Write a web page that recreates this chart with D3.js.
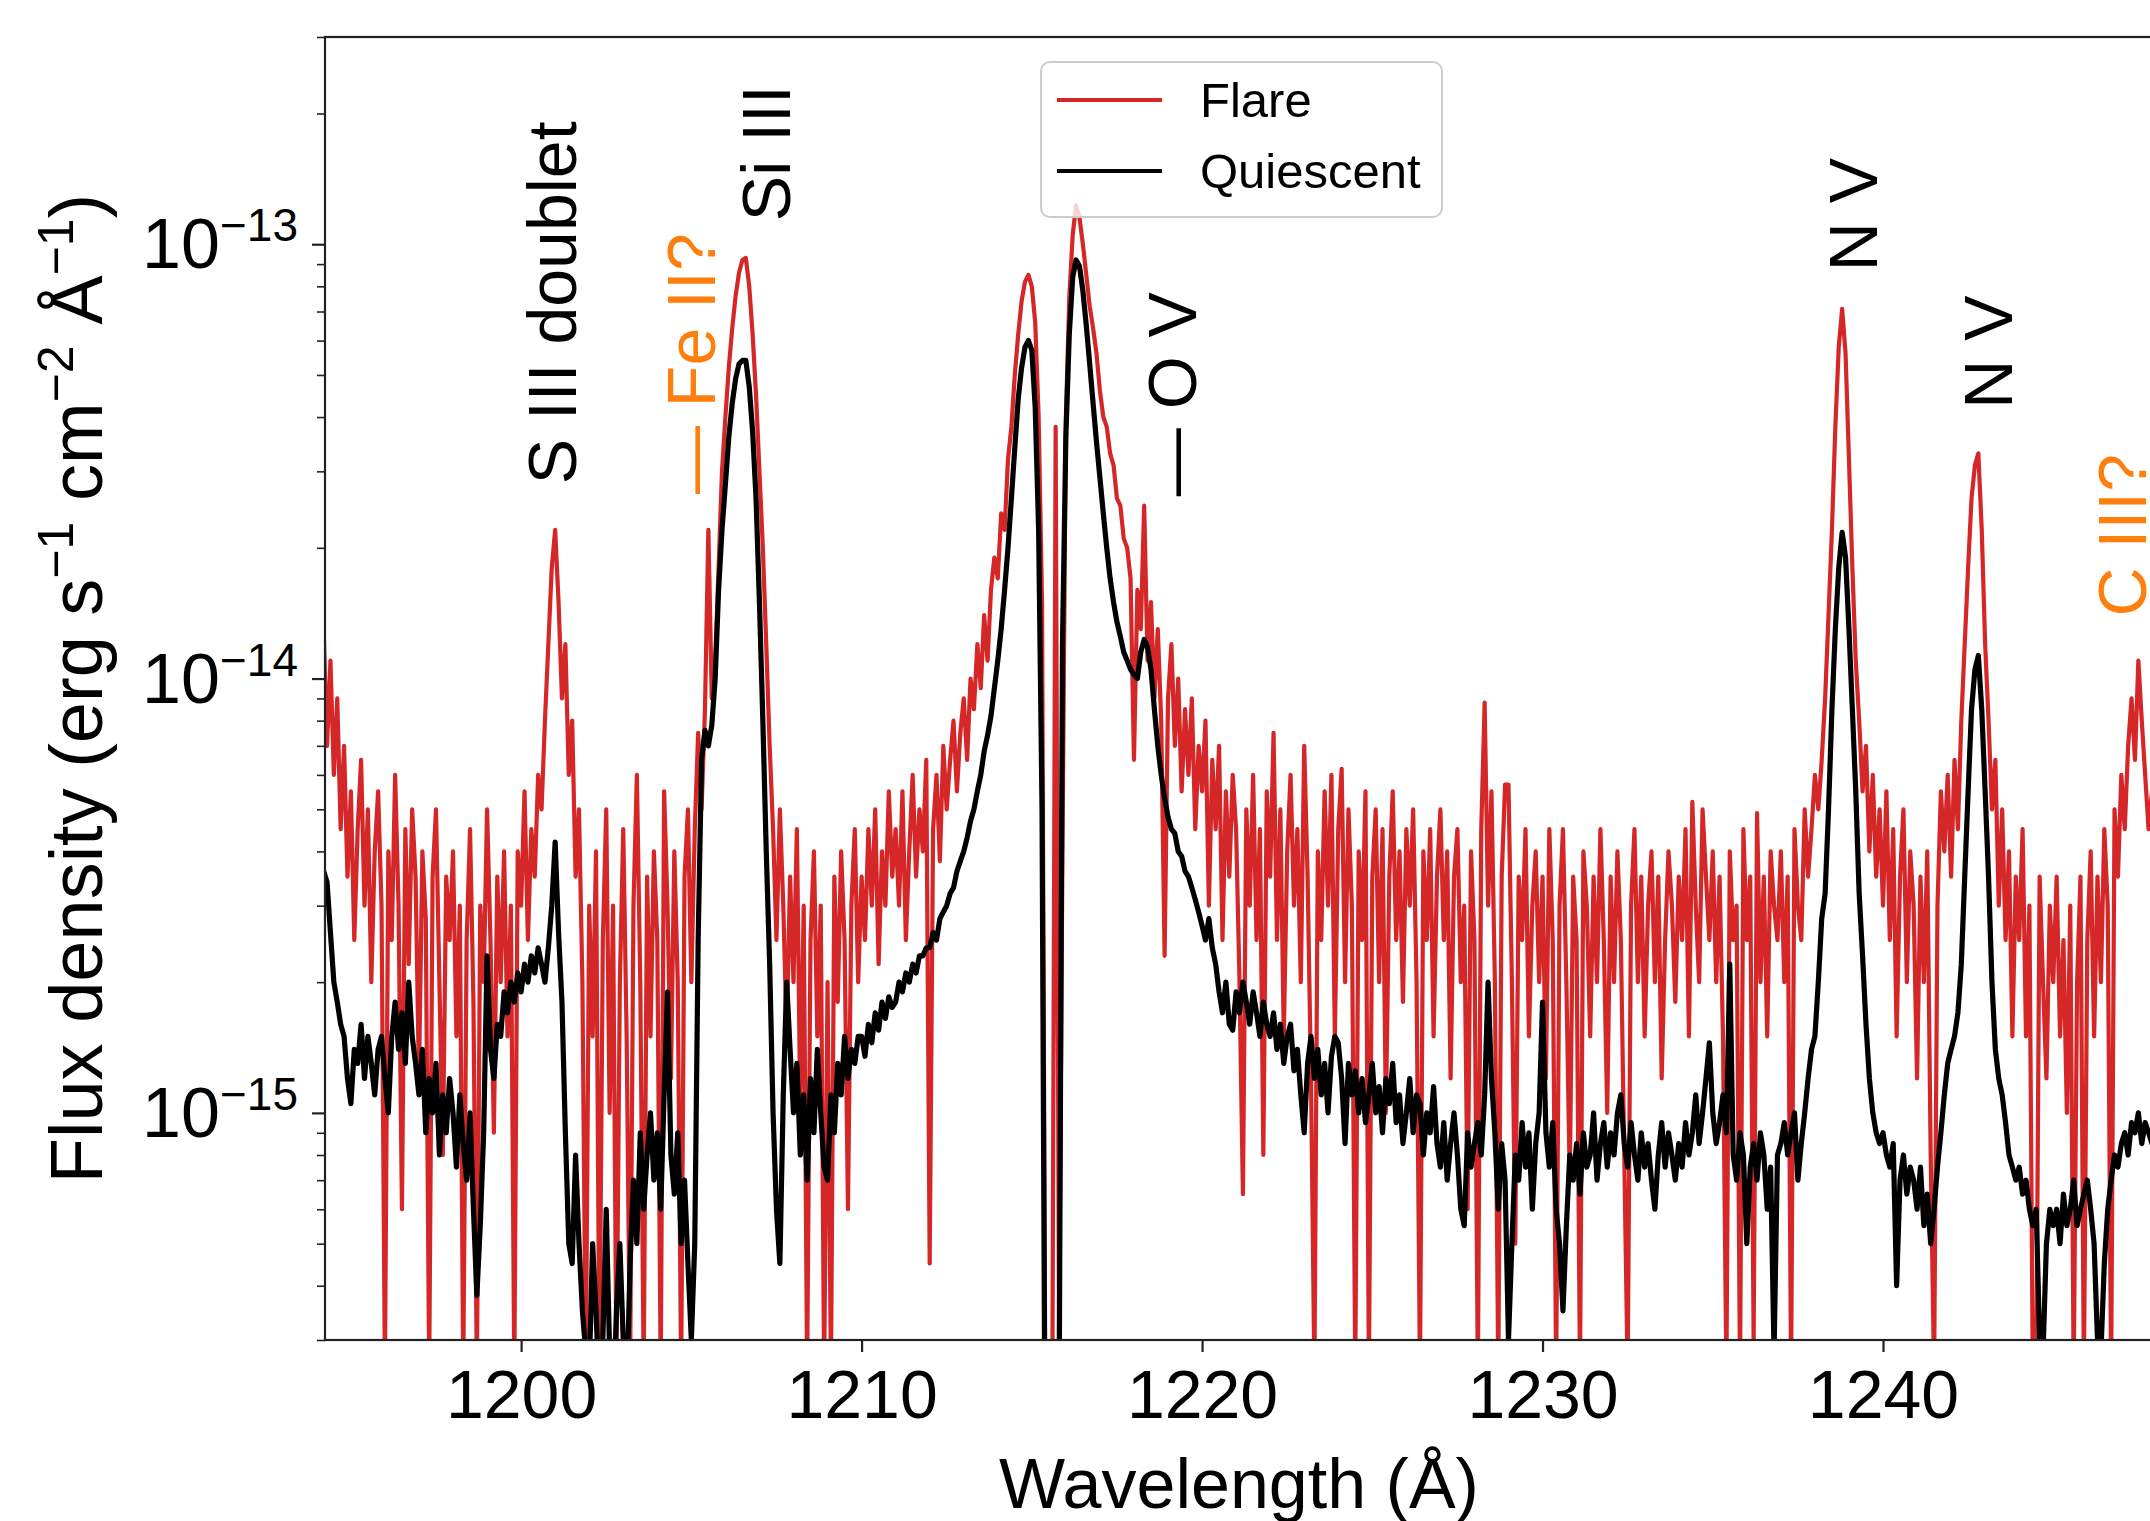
<!DOCTYPE html>
<html>
<head>
<meta charset="utf-8">
<script src="https://cdn.jsdelivr.net/npm/d3@7"></script>
<style>
  body { margin: 0; background: #fff; }
  svg { display: block; font-family: "Liberation Sans", Arial, Helvetica, sans-serif; }
</style>
</head>
<body>
<div id="chart"></div>
<script>
// ──────────────────────────────────────────────
// 1) Data (flux in units of 1e-15 erg/s/cm2/Å)
// ──────────────────────────────────────────────
var waveStart = 1194.2;   // Å, first sample
var waveStep  = 0.1;      // Å between samples
var fluxUnit  = 1e-15;

var quiescent = [
  3.6, 3.4, 2.6, 2.0, 1.8, 1.6, 1.5, 1.2,                   // 1194.2
  1.05, 1.4, 1.3, 1.6, 1.2, 1.5, 1.3, 1.1, 1.4, 1.5,        // 1195
  1.2, 1.0, 1.5, 1.8, 1.4, 1.7, 1.3, 2.0, 1.5, 1.3,         // 1196
  1.1, 1.4, 0.9, 1.2, 1.0, 1.3, 0.8, 1.1, 0.9, 1.2,         // 1197
  1.0, 0.75, 1.1, 0.85, 0.7, 1.0, 0.6, 0.38, 0.55, 0.9,     // 1198
  2.3, 1.4, 1.2, 1.6, 1.5, 1.9, 1.7, 2.0, 1.8, 2.1,         // 1199
  1.9, 2.2, 2.0, 2.3, 2.1, 2.4, 2.2, 2.0, 2.4, 3.0,         // 1200
  4.2, 2.6, 1.8, 0.9, 0.5, 0.45, 0.8, 0.5, 0.35, 0.28,      // 1201
  0.25, 0.5, 0.35, 0.22, 0.3, 0.6, 0.28, 0.2, 0.35, 0.5,    // 1202
  0.3, 0.22, 0.45, 0.7, 0.5, 0.9, 0.6, 0.8, 1.0, 0.7,       // 1203
  0.9, 0.6, 1.1, 1.9, 0.8, 0.65, 0.9, 0.5, 0.7, 0.45,       // 1204
  0.3, 0.5, 2.5, 6.5, 7.6, 7.0, 7.8, 10, 16, 22,            // 1205
  28, 36, 43, 49, 53, 54, 54, 47, 37, 26,                   // 1206
  15, 8.0, 4.0, 2.2, 1.0, 0.6, 0.45, 1.1, 2.0, 1.4,         // 1207
  1.0, 1.3, 0.8, 1.1, 0.7, 1.2, 0.9, 1.4, 1.0, 0.75,        // 1208
  0.7, 1.1, 0.9, 1.3, 1.1, 1.5, 1.2, 1.4, 1.3, 1.5,         // 1209
  1.5, 1.35, 1.6, 1.45, 1.7, 1.55, 1.8, 1.65, 1.85, 1.75,   // 1210
  1.8, 2.0, 1.9, 2.1, 2.0, 2.2, 2.1, 2.3, 2.3, 2.4,         // 1211
  2.4, 2.6, 2.5, 2.8, 2.9, 3.0, 3.2, 3.3, 3.6, 3.8,         // 1212
  4.0, 4.3, 4.7, 5.0, 5.5, 6.0, 6.8, 7.4, 8.2, 9.5,         // 1213
  11, 13, 16, 20, 26, 34, 44, 52, 58, 60,                   // 1214
  57, 42, 22, 5.0, 0.1, 0.1, 0.1, 0.1, 0.2, 12,             // 1215
  36, 62, 84, 92, 89, 78, 65, 53, 43, 35,                   // 1216
  29, 24, 20, 17, 15, 13.5, 12.5, 11.5, 11, 10.5,           // 1217
  10.2, 10.0, 11.5, 12.3, 11.8, 10.5, 8.5, 7.0, 6.0, 5.3,   // 1218
  4.8, 4.5, 4.4, 4.0, 3.9, 3.6, 3.5, 3.3, 3.1, 2.9,         // 1219
  2.7, 2.5, 2.8, 2.4, 2.2, 1.9, 1.7, 2.0, 1.6, 1.55,        // 1220
  1.9, 1.7, 2.0, 1.8, 1.6, 1.9, 1.7, 1.5, 1.8, 1.6,         // 1221
  1.5, 1.7, 1.4, 1.6, 1.3, 1.5, 1.6, 1.25, 1.4, 1.1,        // 1222
  0.9, 1.3, 1.5, 1.2, 1.4, 1.1, 1.3, 1.0, 1.35, 1.5,        // 1223
  1.45, 1.2, 0.85, 1.3, 1.1, 1.25, 1.0, 1.2, 0.95, 1.1,     // 1224
  1.3, 1.0, 1.15, 0.9, 1.2, 1.05, 1.3, 0.95, 1.1, 0.85,     // 1225
  1.0, 1.2, 0.9, 1.1, 1.05, 0.8, 1.0, 0.9, 1.15, 0.85,      // 1226
  0.75, 0.95, 0.7, 0.85, 1.0, 0.8, 0.6, 0.55, 0.9, 0.75,    // 1227
  0.85, 0.95, 0.8, 1.1, 2.0, 1.2, 0.9, 0.6, 0.85, 0.7,      // 1228
  0.3, 0.5, 0.8, 0.7, 0.95, 0.75, 0.9, 0.6, 0.85, 1.0,      // 1229
  1.8, 0.9, 0.75, 0.95, 0.6, 0.5, 0.35, 0.55, 0.8, 0.7,     // 1230
  0.85, 0.65, 0.9, 0.75, 0.8, 1.0, 0.7, 0.85, 0.95, 0.75,   // 1231
  0.9, 0.8, 1.0, 1.1, 0.85, 0.75, 0.95, 0.8, 0.7, 0.9,      // 1232
  0.75, 0.85, 0.7, 0.6, 0.8, 0.95, 0.75, 0.9, 0.8, 0.7,     // 1233
  0.85, 0.75, 0.95, 0.8, 0.9, 1.1, 0.85, 1.0, 1.2, 1.45,    // 1234
  1.0, 0.85, 0.95, 1.1, 0.9, 2.2, 0.8, 0.7, 0.9, 0.8,       // 1235
  0.5, 0.75, 0.85, 0.7, 0.9, 0.8, 0.6, 0.75, 0.28, 0.8,     // 1236
  0.85, 0.95, 0.8, 0.9, 1.0, 0.7, 0.85, 1.0, 1.2, 1.4,      // 1237
  1.5, 2.0, 2.8, 3.2, 5.0, 8.5, 13, 18, 21.7, 19,           // 1238
  13, 8.5, 5.5, 3.2, 2.3, 1.6, 1.2, 1.0, 0.9, 0.85,         // 1239
  0.9, 0.8, 0.75, 0.85, 0.4, 0.7, 0.8, 0.65, 0.75, 0.7,     // 1240
  0.6, 0.75, 0.55, 0.65, 0.5, 0.6, 0.75, 0.9, 1.1, 1.3,     // 1241
  1.4, 1.5, 1.7, 2.2, 3.5, 5.5, 8.5, 10.5, 11.3, 8.5,       // 1242
  5.5, 3.5, 2.0, 1.4, 1.2, 1.1, 0.95, 0.8, 0.75, 0.7,       // 1243
  0.75, 0.65, 0.7, 0.6, 0.55, 0.6, 0.3, 0.28, 0.5, 0.6,     // 1244
  0.55, 0.6, 0.5, 0.65, 0.55, 0.6, 0.7, 0.55, 0.6, 0.65,    // 1245
  0.7, 0.6, 0.5, 0.3, 0.28, 0.45, 0.6, 0.7, 0.8, 0.75,      // 1246
  0.85, 0.9, 0.8, 0.95, 0.9, 1.0, 0.85, 0.95, 0.9, 0.85,    // 1247
  0.9, 0.85, 0.95                                           // 1248
];

var flare = [
  13, 7.0, 11, 6.0, 9.0, 4.5, 7.0, 3.5,                     // 1194.2
  5.5, 2.5, 4.5, 6.5, 3.0, 5.0, 2.0, 4.0, 5.5, 3.0,         // 1195
  0.25, 4.0, 2.5, 6.0, 3.0, 0.6, 4.5, 2.2, 5.0, 3.5,        // 1196
  1.2, 4.0, 2.8, 0.25, 3.5, 5.0, 2.0, 0.8, 3.5, 2.5,        // 1197
  4.0, 1.5, 3.0, 0.25, 2.5, 4.5, 1.8, 0.25, 3.0, 2.0,       // 1198
  5.0, 2.5, 0.9, 3.5, 2.0, 4.0, 1.5, 3.0, 0.25, 4.0,        // 1199
  3.0, 5.5, 2.5, 4.5, 3.5, 6.0, 5.0, 8.0, 12, 18,           // 1200
  22, 15, 9.0, 12, 6.0, 8.0, 3.5, 5.0, 2.0, 0.25,           // 1201
  3.0, 1.5, 4.0, 0.25, 2.5, 5.0, 1.0, 3.0, 0.25, 2.0,       // 1202
  4.5, 1.5, 0.25, 3.0, 6.0, 2.0, 0.25, 3.5, 1.5, 4.0,       // 1203
  2.5, 0.25, 5.5, 3.0, 1.2, 4.0, 2.0, 0.25, 3.5, 5.0,       // 1204
  2.0, 4.5, 7.5, 5.0, 8.5, 22, 9.0, 11, 18, 30,             // 1205
  40, 52, 64, 76, 86, 92, 93, 80, 62, 45,                   // 1206
  30, 20, 12, 7.0, 4.5, 2.5, 5.0, 3.0, 1.5, 3.5,            // 1207
  2.0, 4.5, 1.0, 3.0, 0.25, 2.5, 4.0, 1.5, 3.0, 0.25,       // 1208
  2.0, 0.25, 3.5, 1.8, 4.0, 2.5, 0.6, 3.0, 4.5, 2.0,        // 1209
  3.5, 2.5, 4.5, 3.0, 5.0, 2.2, 4.0, 3.0, 5.5, 3.5,         // 1210
  4.5, 3.0, 5.5, 2.5, 4.0, 6.0, 3.5, 5.0, 4.0, 6.5,         // 1211
  0.45, 4.5, 6.0, 3.8, 7.0, 5.0, 6.5, 8.0, 5.5, 7.5,        // 1212
  9.0, 6.5, 10, 8.5, 12, 9.5, 14, 11, 16, 19,               // 1213
  17, 24, 22, 32, 38, 50, 62, 74, 82, 85,                   // 1214
  80, 66, 40, 15, 0.2, 0.2, 0.2, 38, 0.3, 4.0,              // 1215
  40, 75, 105, 123, 115, 100, 85, 72, 64, 56,               // 1216
  46, 40, 38, 33, 31, 26, 25, 21, 20, 17,                   // 1217
  6.5, 16, 13, 25, 11, 15, 9.0, 13, 8.0, 2.3,               // 1218
  9.0, 12, 7.0, 10, 5.5, 8.5, 6.0, 9.0, 4.5, 7.0,           // 1219
  5.5, 8.0, 3.0, 6.5, 4.5, 7.0, 2.5, 5.5, 3.5, 6.0,         // 1220
  4.5, 2.0, 0.65, 5.0, 3.0, 6.0, 2.5, 4.5, 0.8, 5.5,        // 1221
  3.5, 7.5, 2.5, 5.0, 1.5, 4.0, 6.0, 3.0, 4.5, 2.0,         // 1222
  7.0, 3.5, 1.2, 0.25, 4.0, 2.5, 5.5, 3.0, 6.0, 1.5,        // 1223
  4.5, 6.2, 2.0, 5.0, 3.0, 0.25, 4.0, 2.5, 5.5, 0.25,       // 1224
  3.5, 5.0, 2.0, 4.5, 1.0, 3.5, 5.5, 2.5, 4.0, 1.8,         // 1225
  4.5, 3.0, 5.0, 2.0, 0.25, 4.0, 2.5, 4.5, 1.5, 3.5,        // 1226
  5.0, 2.5, 4.0, 1.2, 3.5, 4.5, 2.0, 3.0, 0.6, 4.0,         // 1227
  2.5, 0.25, 4.5, 8.8, 3.0, 5.5, 2.0, 0.25, 3.5, 5.7,       // 1228
  5.7, 2.0, 0.5, 3.5, 2.5, 4.5, 1.5, 3.0, 4.0, 2.0,         // 1229
  3.5, 1.2, 4.5, 2.5, 0.25, 3.0, 4.5, 2.0, 0.7, 3.5,        // 1230
  2.5, 0.25, 4.0, 3.0, 1.5, 3.5, 2.0, 4.5, 2.5, 1.0,        // 1231
  3.5, 2.0, 4.0, 2.5, 0.8, 0.25, 3.0, 4.5, 2.0, 3.5,        // 1232
  1.5, 3.0, 4.0, 2.0, 3.5, 1.2, 2.5, 4.0, 3.0, 1.8,         // 1233
  3.5, 2.5, 4.5, 1.5, 5.2, 3.0, 2.0, 5.0, 3.5, 2.5,         // 1234
  4.0, 2.0, 3.5, 1.5, 0.25, 4.0, 2.5, 3.0, 0.25, 4.5,       // 1235
  2.5, 3.5, 0.3, 4.9, 2.0, 3.5, 1.5, 4.0, 3.0, 2.5,         // 1236
  4.0, 2.0, 3.5, 0.25, 4.5, 3.0, 2.5, 5.0, 3.5, 4.5,        // 1237
  6.0, 5.0, 6.5, 9.0, 14, 22, 38, 58, 71, 56,               // 1238
  32, 18, 11, 8.0, 5.5, 7.0, 4.0, 6.0, 3.5, 5.0,            // 1239
  3.0, 5.5, 2.5, 4.5, 1.5, 3.5, 5.0, 2.0, 4.0, 3.0,         // 1240
  1.2, 3.5, 2.0, 4.0, 0.8, 0.25, 3.0, 5.5, 4.0, 6.0,        // 1241
  3.5, 6.5, 4.5, 8.0, 12, 18, 26, 31, 33, 22,               // 1242
  12, 8.0, 5.0, 6.5, 3.0, 5.0, 2.5, 4.0, 1.5, 3.5,          // 1243
  2.5, 4.5, 1.5, 3.0, 0.25, 0.25, 3.5, 2.0, 1.2, 3.0,       // 1244
  2.0, 3.5, 1.5, 2.5, 1.0, 3.0, 0.25, 2.0, 3.5, 0.25,       // 1245
  2.5, 4.0, 1.5, 3.5, 2.0, 4.5, 3.0, 0.25, 5.0, 3.5,        // 1246
  6.0, 4.5, 7.0, 9.0, 6.5, 11, 8.0, 6.0, 4.5, 5.5,          // 1247
  3.5, 4.5, 3.0                                             // 1248
];

// line identifications: wavelength of label centre, flux at label foot
var lineLabels = [
  { text: "S III doublet", wave: 1200.91, flux: 2.8e-14,  color: "#000000" },
  { text: "— Fe II?",      wave: 1204.99, flux: 2.66e-14, color: "#ff7f0e" },
  { text: "Si III",        wave: 1207.17, flux: 1.13e-13, color: "#000000" },
  { text: "— O V",         wave: 1219.10, flux: 2.63e-14, color: "#000000" },
  { text: "N V",           wave: 1239.10, flux: 8.67e-14, color: "#000000" },
  { text: "N V",           wave: 1243.07, flux: 4.18e-14, color: "#000000" },
  { text: "C III?",        wave: 1247.00, flux: 1.39e-14, color: "#ff7f0e" }
];

var seriesNames  = ["Flare", "Quiescent"];
var seriesColors = ["#d62728", "#000000"];
var xTicks = [1200, 1210, 1220, 1230, 1240];
var yTicks = [1e-15, 1e-14, 1e-13];
var yTickExp = ["−15", "−14", "−13"];

// ──────────────────────────────────────────────
// 2) Frame and scales
// ──────────────────────────────────────────────
var W = 2150, H = 1521;
var box = { left: 325, right: 2153, top: 37, bottom: 1340 };

var x = d3.scaleLinear().domain([1194.24, 1247.93]).range([box.left, box.right]);
var y = d3.scaleLog().domain([3e-16, 3e-13]).range([box.bottom, box.top]);

var svg = d3.select("#chart").append("svg")
  .attr("width", W).attr("height", H);

svg.append("defs").append("clipPath").attr("id", "plotclip")
  .append("rect")
  .attr("x", box.left).attr("y", box.top)
  .attr("width", box.right - box.left).attr("height", box.bottom - box.top);

// ──────────────────────────────────────────────
// 3) Spectra (flare first, quiescent drawn on top)
// ──────────────────────────────────────────────
var line = d3.line()
  .x(function(d, i) { return x(waveStart + i * waveStep); })
  .y(function(d) { return y(d * fluxUnit); });

var plot = svg.append("g").attr("clip-path", "url(#plotclip)");
[flare, quiescent].forEach(function(s, k) {
  plot.append("path")
    .attr("d", line(s))
    .attr("fill", "none")
    .attr("stroke", seriesColors[k])
    .attr("stroke-width", k === 0 ? 4.2 : 5.2)
    .attr("stroke-linejoin", "round");
});

// ──────────────────────────────────────────────
// 4) Axes
// ──────────────────────────────────────────────
var xAxis = svg.append("g")
  .attr("transform", "translate(0," + box.bottom + ")")
  .call(d3.axisBottom(x).tickValues(xTicks).tickSize(12).tickSizeOuter(0).tickPadding(18)
        .tickFormat(d3.format("d")));
xAxis.select(".domain").remove();
xAxis.selectAll(".tick line").attr("stroke-width", 2.2).attr("stroke", "#222");
xAxis.selectAll(".tick text").attr("font-size", 68).attr("fill", "#000")
  .attr("font-family", "Liberation Sans, Arial, sans-serif");

var minorTicks = y.ticks().filter(function(v) {
  return yTicks.indexOf(v) < 0;
});
var yMinor = svg.append("g")
  .attr("transform", "translate(" + box.left + ",0)")
  .call(d3.axisLeft(y).tickValues(minorTicks).tickSize(8).tickSizeOuter(0).tickFormat(""));
yMinor.select(".domain").remove();
yMinor.selectAll(".tick line").attr("stroke-width", 1.6).attr("stroke", "#222");

var yMajor = svg.append("g")
  .attr("transform", "translate(" + box.left + ",0)")
  .call(d3.axisLeft(y).tickValues(yTicks).tickSize(13).tickSizeOuter(0).tickFormat(""));
yMajor.select(".domain").remove();
yMajor.selectAll(".tick line").attr("stroke-width", 2.2).attr("stroke", "#222");

yTicks.forEach(function(v, i) {
  var t = svg.append("text")
    .attr("x", box.left - 27)
    .attr("y", y(v) + 24)
    .attr("text-anchor", "end")
    .attr("font-size", 70);
  t.append("tspan").text("10");
  t.append("tspan").attr("font-size", 46).attr("dy", -27).text(yTickExp[i]);
});

// spines (right one falls just outside the picture)
svg.append("rect")
  .attr("x", box.left).attr("y", box.top)
  .attr("width", box.right - box.left).attr("height", box.bottom - box.top)
  .attr("fill", "none").attr("stroke", "#222").attr("stroke-width", 2.2);

// axis titles
svg.append("text")
  .attr("x", (box.left + box.right) / 2).attr("y", 1508)
  .attr("text-anchor", "middle").attr("font-size", 70)
  .text("Wavelength (Å)");

var yl = svg.append("text")
  .attr("transform", "translate(102," + (box.top + box.bottom) / 2 + ") rotate(-90)")
  .attr("text-anchor", "middle").attr("font-size", 74);
yl.append("tspan").text("Flux density (erg s");
yl.append("tspan").attr("font-size", 50).attr("dy", -29).text("−1");
yl.append("tspan").attr("dy", 29).text(" cm");
yl.append("tspan").attr("font-size", 50).attr("dy", -29).text("−2");
yl.append("tspan").attr("dy", 29).text(" Å");
yl.append("tspan").attr("font-size", 50).attr("dy", -29).text("−1");
yl.append("tspan").attr("dy", 29).text(")");

// ──────────────────────────────────────────────
// 5) Line identifications (vertical text)
// ──────────────────────────────────────────────
var capHalf = 68 * 0.716 / 2;
svg.selectAll("text.ident")
  .data(lineLabels)
  .enter().append("text")
  .attr("class", "ident")
  .attr("transform", function(d) {
    return "translate(" + (x(d.wave) + capHalf) + "," + y(d.flux) + ") rotate(-90)";
  })
  .attr("font-size", 68)
  .attr("fill", function(d) { return d.color; })
  .text(function(d) { return d.text; });

// ──────────────────────────────────────────────
// 6) Legend
// ──────────────────────────────────────────────
var lg = svg.append("g").attr("transform", "translate(1041,62)");
lg.append("rect")
  .attr("width", 401).attr("height", 155).attr("rx", 9)
  .attr("fill", "#fff").attr("fill-opacity", 0.8)
  .attr("stroke", "#cccccc").attr("stroke-width", 2);
seriesNames.forEach(function(name, i) {
  var yy = 38 + i * 71;
  lg.append("line")
    .attr("x1", 16).attr("x2", 121).attr("y1", yy).attr("y2", yy)
    .attr("stroke", seriesColors[i]).attr("stroke-width", 4);
  lg.append("text")
    .attr("x", 159).attr("y", yy + 17)
    .attr("font-size", 49)
    .text(name);
});
</script>
</body>
</html>
